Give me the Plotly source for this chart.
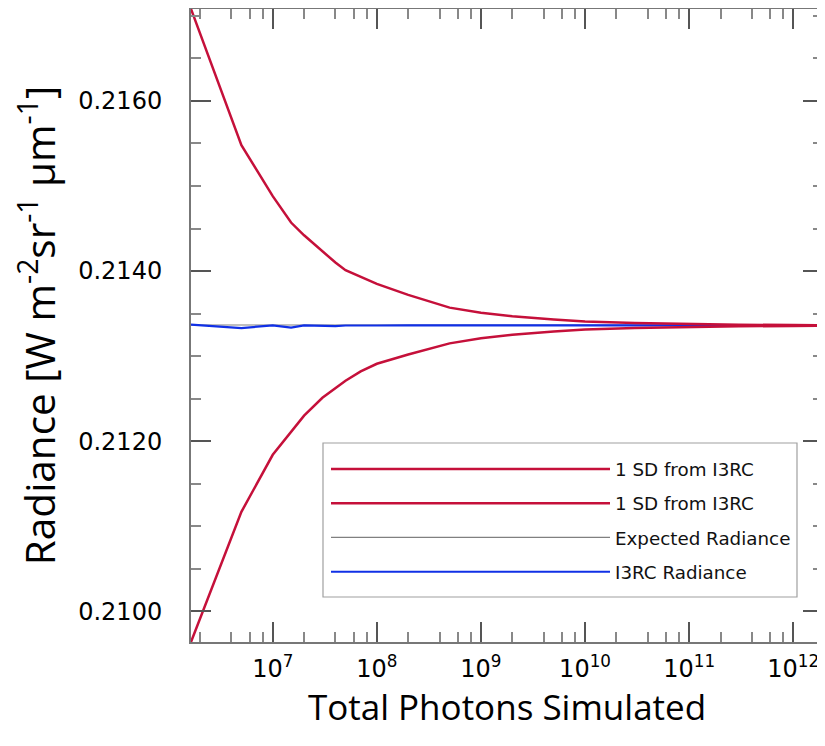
import numpy as np
import plotly.graph_objects as go

# Total photons simulated
photons = [1.64e6, 5e6, 1e7, 1.5e7, 2e7, 3e7, 4e7, 5e7, 7e7, 1e8, 2e8, 5e8,
           1e9, 2e9, 5e9, 1e10, 3e10, 1e11, 3e11, 1e12, 1.93e12]
# +1 SD and -1 SD from I3RC
sd_upper = [0.21708, 0.21548, 0.21488, 0.21457, 0.21442, 0.21423, 0.21410, 0.21401,
            0.21393, 0.21385, 0.21372, 0.21357, 0.21351, 0.21347, 0.21343, 0.213408,
            0.213388, 0.213375, 0.213369, 0.213365, 0.213364]
sd_lower = [0.20964, 0.21117, 0.21184, 0.21211, 0.21230, 0.21251, 0.21262, 0.21271,
            0.21282, 0.21291, 0.21302, 0.21315, 0.21321, 0.21325, 0.21329, 0.213312,
            0.213332, 0.213345, 0.213351, 0.213355, 0.213356]
# I3RC radiance
i3rc = [0.213370, 0.213330, 0.213362, 0.213335, 0.213362, 0.213358, 0.213352, 0.213360,
        0.213357, 0.213360, 0.213361, 0.213362, 0.213362, 0.213362, 0.213362, 0.213362,
        0.213362, 0.213362, 0.213362, 0.213362, 0.213362]
expected_radiance = 0.213366

xtick_vals = [1e7, 1e8, 1e9, 1e10, 1e11, 1e12]
xtick_text = ["10<sup>7</sup>", "10<sup>8</sup>", "10<sup>9</sup>",
              "10<sup>10</sup>", "10<sup>11</sup>", "10<sup>12</sup>"]
ytick_vals = [0.2100, 0.2120, 0.2140, 0.2160]

RED = "#C5103A"
BLUE = "#1030E6"
GRAY = "#808080"

fig = go.Figure()
fig.add_trace(go.Scatter(x=[photons[0], photons[-1]], y=[expected_radiance] * 2,
                         mode="lines", line=dict(color=GRAY, width=1.2),
                         name="Expected Radiance", legendrank=3, legendgroup="c"))
fig.add_trace(go.Scatter(x=photons, y=i3rc, mode="lines", line=dict(color=BLUE, width=2.2),
                         name="I3RC Radiance", legendrank=4, legendgroup="d"))
fig.add_trace(go.Scatter(x=photons, y=sd_upper, mode="lines", line=dict(color=RED, width=2.5),
                         name="1 SD from I3RC", legendrank=1, legendgroup="a"))
fig.add_trace(go.Scatter(x=photons, y=sd_lower, mode="lines", line=dict(color=RED, width=2.5),
                         name="1 SD from I3RC", legendrank=2, legendgroup="b"))

minor_x = [m * 10 ** e for e in range(6, 13) for m in (2, 4, 6, 8)]
minor_x = [v for v in minor_x if photons[0] <= v <= photons[-1]]

fig.update_xaxes(
    type="log", automargin=False,
    range=[np.log10(photons[0]), np.log10(photons[-1])],
    tickmode="array", tickvals=xtick_vals, ticktext=xtick_text,
    ticks="inside", ticklen=20, tickwidth=2, tickcolor="#555",
    showline=True, linecolor="#777", linewidth=2, mirror="ticks",
    showgrid=False, zeroline=False,
    tickfont=dict(family="DejaVu Sans", size=24, color="black"),
    ticklabelstandoff=4,
    minor=dict(tickmode="array", tickvals=minor_x, ticks="inside", ticklen=10,
               tickwidth=1.5, tickcolor="#888", showgrid=False),
    title=dict(text="Total Photons Simulated", standoff=6,
               font=dict(family="Open Sans", size=35, color="black")),
)
fig.update_yaxes(
    automargin=False,
    range=[min(sd_lower), max(sd_upper)],
    tickmode="array", tickvals=ytick_vals, tickformat=".4f",
    ticks="inside", ticklen=20, tickwidth=2, tickcolor="#555",
    showline=True, linecolor="#777", linewidth=2, mirror="ticks",
    showgrid=False, zeroline=False,
    tickfont=dict(family="DejaVu Sans", size=24, color="black"),
    ticklabelstandoff=22,
    minor=dict(dtick=0.0005, tick0=0.21, ticks="inside", ticklen=10,
               tickwidth=1.5, tickcolor="#888", showgrid=False),
    title=dict(text="Radiance [W m<sup>-2</sup>sr<sup>-1</sup> μm<sup>-1</sup>]", standoff=11,
               font=dict(family="Open Sans", size=40.5, color="black")),
)

# legend frame (page has an 8px body margin; plot area spans x 183..815, y 1..634 in figure px)
PL, PT, PW, PH = 183, 1, 632, 633
def px(x):
    return (x - 8 - PL) / PW
def py(y):
    return 1 - (y - 8 - PT) / PH

fig.add_shape(type="rect", xref="paper", yref="paper",
              x0=px(323), x1=px(797), y0=py(597), y1=py(443),
              line=dict(color="#A0A0A0", width=1.2), fillcolor="white", layer="above")

fig.update_layout(
    width=817, height=738,
    margin=dict(l=PL, r=2, t=PT, b=104),
    paper_bgcolor="white", plot_bgcolor="white",
    showlegend=True,
    legend=dict(x=px(326), y=py(450.5), xanchor="left", yanchor="top",
                bgcolor="rgba(0,0,0,0)", borderwidth=0,
                font=dict(family="DejaVu Sans", size=18.3, color="#111"),
                itemwidth=279, traceorder="grouped", tracegroupgap=7.5),
)

fig.write_html("out.html")
